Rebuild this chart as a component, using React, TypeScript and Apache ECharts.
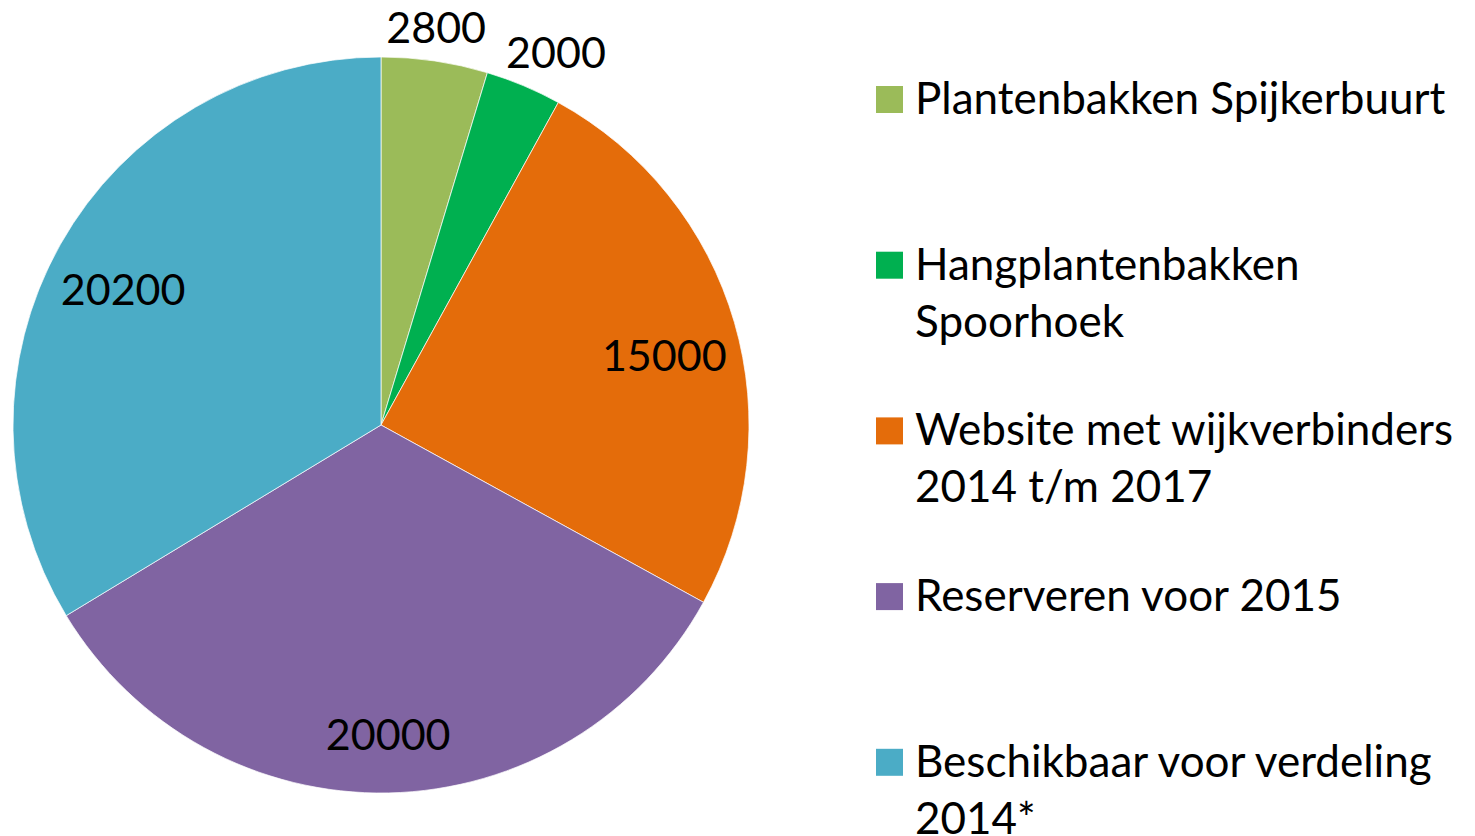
import React, { useEffect, useRef } from "react";
import * as echarts from "echarts";

const categories = [
  "Plantenbakken Spijkerbuurt",
  "Hangplantenbakken Spoorhoek",
  "Website met wijkverbinders 2014 t/m 2017",
  "Reserveren voor 2015",
  "Beschikbaar voor verdeling 2014*",
];
const legendLabels = [
  "Plantenbakken Spijkerbuurt",
  "Hangplantenbakken\nSpoorhoek",
  "Website met wijkverbinders\n2014 t/m 2017",
  "Reserveren voor 2015",
  "Beschikbaar voor verdeling\n2014*",
];
const values = [2800, 2000, 15000, 20000, 20200];
const colors = ["#9BBB59", "#00B050", "#E46C0A", "#8064A2", "#4BACC6"];
const outsideLabel = [true, true, false, false, false];
// label nudges [dx, dy] to mimic the original's best-fit placement
const labelNudge = [
  [-4, 2],
  [18, 0],
  [-1, 12],
  [1, 13],
  [0, 9],
];

const FONT = "Lato, 'Open Sans', sans-serif";
const FS = 43;
const LFS = 44;

export default function App() {
  const ref = useRef<HTMLDivElement>(null);
  useEffect(() => {
    if (!ref.current) return;
    const chart = echarts.init(ref.current, undefined, { renderer: "svg" });
    const center = [381, 425];
    const labelStyle = {
      position: "inside",
      rotate: 0,
      formatter: "{c}",
      color: "#000",
      fontFamily: FONT,
      fontSize: FS,
    };
    const nudge = (p: any) => ({ dx: labelNudge[p.dataIndex][0], dy: labelNudge[p.dataIndex][1] });
    const mkData = (showFn: (i: number) => boolean, transparent: boolean) =>
      categories.map((name, i) => ({
        name,
        value: values[i],
        itemStyle: transparent
          ? { color: "rgba(0,0,0,0)", borderWidth: 0 }
          : { color: colors[i] },
        label: { show: showFn(i) },
      }));
    const legendItems: any[] = [];
    legendLabels.forEach((lbl, i) => {
      const cy = 99.5 + i * 165.7;
      legendItems.push({
        type: "rect",
        shape: { x: 876, y: cy - 13.5, width: 27, height: 27 },
        style: { fill: colors[i] },
      });
      legendItems.push({
        type: "text",
        x: 915,
        y: cy - 31,
        style: {
          text: lbl,
          fill: "#000",
          font: `${LFS}px ${FONT}`,
          lineHeight: 57,
          verticalAlign: "top",
        },
      });
    });
    chart.setOption({
      animation: false,
      series: [
        {
          type: "pie",
          center,
          radius: 368,
          startAngle: 90,
          clockwise: true,
          silent: true,
          label: { show: false },
          labelLine: { show: false },
          itemStyle: { borderColor: "rgba(255,255,255,0.7)", borderWidth: 1 },
          data: mkData(() => false, false),
        },
        {
          type: "pie",
          center,
          radius: [396, 408],
          startAngle: 90,
          clockwise: true,
          silent: true,
          label: labelStyle,
          labelLine: { show: false },
          labelLayout: nudge,
          emphasis: { disabled: true },
          data: mkData((i) => outsideLabel[i], true),
        },
        {
          type: "pie",
          center,
          radius: [286, 300],
          startAngle: 90,
          clockwise: true,
          silent: true,
          label: labelStyle,
          labelLine: { show: false },
          labelLayout: nudge,
          emphasis: { disabled: true },
          data: mkData((i) => !outsideLabel[i], true),
        },
      ],
      graphic: legendItems,
    });
    return () => chart.dispose();
  }, []);
  return (
    <div
      ref={ref}
      style={{ position: "absolute", left: 0, top: 0, width: 1475, height: 836, background: "#fff" }}
    />
  );
}
